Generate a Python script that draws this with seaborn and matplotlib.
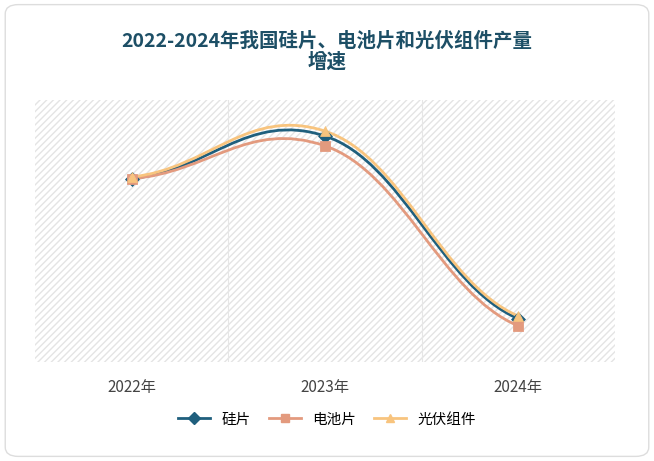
import matplotlib.pyplot as plt
import seaborn as sns
import pandas as pd
from matplotlib.path import Path
from matplotlib.patches import PathPatch, FancyBboxPatch
from matplotlib.lines import Line2D
from matplotlib import font_manager

cjk = [f.name for f in font_manager.fontManager.ttflist if "CJK" in f.name]
plt.rcParams["font.family"] = "sans-serif"
plt.rcParams["font.sans-serif"] = ["Noto Sans CJK SC", "Noto Sans CJK JP"] + cjk + ["DejaVu Sans"]

years = ["2022年", "2023年", "2024年"]
wafer = [56.0, 69.0, 13.2]
cell = [56.0, 66.0, 11.0]
module = [56.5, 70.5, 14.0]

series = {"硅片": wafer, "电池片": cell, "光伏组件": module}
colors = {"硅片": "#1f5f7d", "电池片": "#e39a7e", "光伏组件": "#f8c47e"}
markers = {"硅片": "D", "电池片": "s", "光伏组件": "^"}

df = pd.DataFrame([(y, k, v) for k, vals in series.items() for y, v in zip(years, vals)],
                  columns=["year", "series", "value"])
df["x"] = df["year"].map({y: i for i, y in enumerate(years)})

fig = plt.figure(figsize=(6.54, 4.61), dpi=100)
fig.patches.append(FancyBboxPatch((0.008, 0.01), 0.984, 0.98, boxstyle="round,pad=0,rounding_size=0.02",
                                  transform=fig.transFigure, fill=False, edgecolor="#dddddd", lw=1))
ax = fig.add_axes([0.054, 0.215, 0.886, 0.568])
ax.set_xlim(-0.5, 2.5)
ax.set_ylim(0, 80)
ax.add_patch(plt.Rectangle((-0.5, 0), 3, 80, facecolor="white", edgecolor="#e4e4e4", hatch="/////", lw=0, zorder=0))
for xv in [0.5, 1.5]:
    ax.axvline(xv, color="#e6e6e6", lw=0.8, zorder=0.5)


def smooth_path(xs, ys, t=0.18):
    # cubic bezier segments, horizontal-ish tangents for a soft curve
    pts = list(zip(xs, ys))
    verts, codes = [pts[0]], [Path.MOVETO]
    n = len(pts)
    for i in range(n - 1):
        p0 = pts[max(i - 1, 0)]
        p1, p2 = pts[i], pts[i + 1]
        p3 = pts[min(i + 2, n - 1)]
        c1 = (p1[0] + 0.4, p1[1] + (p2[1] - p0[1]) * t)
        c2 = (p2[0] - 0.4, p2[1] - (p3[1] - p1[1]) * t)
        verts += [c1, c2, p2]
        codes += [Path.CURVE4] * 3
    return Path(verts, codes)


for name, sub in df.groupby("series", sort=False):
    ax.add_patch(PathPatch(smooth_path(sub["x"].tolist(), sub["value"].tolist()),
                           fill=False, edgecolor=colors[name], lw=2, zorder=2))
    sns.scatterplot(data=sub, x="x", y="value", ax=ax, marker=markers[name], color=colors[name],
                    s=50, edgecolor=colors[name], zorder=3, legend=False)

ax.set_xticks(range(len(years)))
ax.set_xticklabels(years, fontsize=11, color="#444444")
ax.set_yticks([])
ax.set_xlabel("")
ax.set_ylabel("")
ax.tick_params(axis="x", length=0, pad=12)
for s in ax.spines.values():
    s.set_visible(False)

fig.text(0.5, 0.888, "2022-2024年我国硅片、电池片和光伏组件产量\n增速", ha="center", va="center",
         fontsize=14, fontweight="bold", color="#1d4f66", linespacing=1.15)

handles = [Line2D([0], [0], color=colors[k], marker=markers[k], lw=2, markersize=6) for k in series]
fig.legend(handles, list(series), loc="center", bbox_to_anchor=(0.5, 0.09), ncol=3, frameon=False,
           fontsize=10.5, handlelength=2.2, columnspacing=1.2)

fig.savefig("out.png", dpi=100)
